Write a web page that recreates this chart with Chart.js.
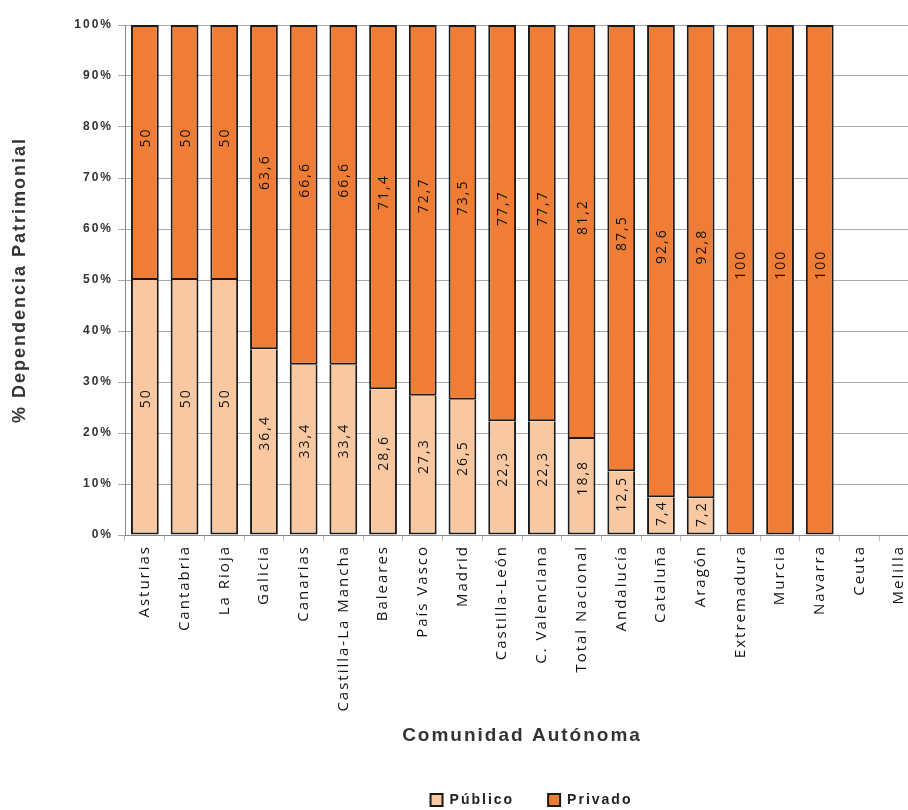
<!DOCTYPE html>
<html>
<head>
<meta charset="utf-8">
<script src="https://cdn.jsdelivr.net/npm/chart.js@4.4.1/dist/chart.umd.min.js"></script>
<style>
  html, body { margin: 0; padding: 0; background: #fff; overflow: hidden; }
  canvas { display: block; }
</style>
</head>
<body>
<canvas id="dependencia" width="930" height="817"></canvas>
<script>
// Categories and values (percent)
const comunidades = ["Asturias", "Cantabria", "La Rioja", "Galicia", "Canarias", "Castilla-La Mancha",
    "Baleares", "País Vasco", "Madrid", "Castilla-León", "C. Valenciana", "Total Nacional",
    "Andalucía", "Cataluña", "Aragón", "Extremadura", "Murcia", "Navarra", "Ceuta", "Melilla"];
const publico = [50, 50, 50, 36.4, 33.4, 33.4, 28.6, 27.3, 26.5, 22.3, 22.3, 18.8, 12.5, 7.4, 7.2, 0, 0, 0, null, null];
const privado = [50, 50, 50, 63.6, 66.6, 66.6, 71.4, 72.7, 73.5, 77.7, 77.7, 81.2, 87.5, 92.6, 92.8, 100, 100, 100, null, null];
const yTicks = [0, 10, 20, 30, 40, 50, 60, 70, 80, 90, 100];

// the original text is widely spaced
const spacing = {
    id: 'spacing',
    beforeLayout(chart) { chart.ctx.letterSpacing = '2px'; },
    beforeDraw(chart) { chart.ctx.letterSpacing = '2px'; }
};

// legend sits a bit right of the canvas centre
const legendShift = {
    id: 'legendShift',
    afterLayout(chart) {
        chart.legend.left += 72;
        chart.legend.right += 72;
    }
};

// rotated value labels, a little above the middle of each segment
const barLabels = {
    id: 'barLabels',
    afterDatasetsDraw(chart) {
        const ctx = chart.ctx;
        const lift = [9, 15];
        ctx.save();
        ctx.font = "14px 'Open Sans'";
        ctx.fillStyle = '#111';
        ctx.textAlign = 'center';
        ctx.textBaseline = 'middle';
        chart.data.datasets.forEach((ds, i) => {
            chart.getDatasetMeta(i).data.forEach((bar, j) => {
                const v = ds.data[j];
                if (!v) return;
                const txt = String(v).replace('.', ',');
                const room = (Math.abs(bar.base - bar.y) - ctx.measureText(txt).width) / 2 - 3;
                const up = Math.max(0, Math.min(lift[i], room));
                ctx.save();
                ctx.translate(bar.x + 1, (bar.y + bar.base) / 2 - up);
                ctx.rotate(-Math.PI / 2);
                ctx.fillText(txt, 0, 0);
                ctx.restore();
            });
        });
        ctx.restore();
    }
};

new Chart("dependencia", {
    type: "bar",
    data: {
        labels: comunidades,
        datasets: [{
            label: "Público",
            data: publico,
            backgroundColor: '#F9C8A0',
            borderColor: '#1a1a1a',
            borderWidth: 2,
            borderSkipped: 'top',
            barPercentage: 0.7,
            categoryPercentage: 1
        }, {
            label: "Privado",
            data: privado,
            backgroundColor: '#F07D35',
            borderColor: '#1a1a1a',
            borderWidth: 2,
            borderSkipped: false,
            barPercentage: 0.7,
            categoryPercentage: 1
        }]
    },
    options: {
        responsive: false,
        animation: false,
        layout: { padding: { top: 25, right: 11, left: 0, bottom: 0 } },
        plugins: {
            legend: {
                display: true,
                position: 'bottom',
                labels: {
                    boxWidth: 12,
                    boxHeight: 12,
                    padding: 34,
                    color: '#222',
                    font: { family: "'Liberation Sans'", size: 14, weight: 'bold' }
                }
            },
            tooltip: { enabled: false }
        },
        scales: {
            x: {
                stacked: true,
                afterFit(s) { s.height = 224; },
                grid: { drawOnChartArea: false, tickLength: 6, color: '#bbb' },
                border: { color: '#888', width: 1 },
                ticks: {
                    minRotation: 90,
                    maxRotation: 90,
                    padding: 4,
                    color: '#111',
                    font: { family: "'Open Sans'", size: 15 }
                },
                title: {
                    display: true,
                    text: 'Comunidad Autónoma',
                    color: '#333',
                    padding: { bottom: 12 },
                    font: { family: "'Liberation Sans'", size: 19, weight: 'bold' }
                }
            },
            y: {
                stacked: true,
                min: 0,
                max: 100,
                afterFit(s) { s.width = 125; },
                afterBuildTicks(s) { s.ticks = yTicks.map(v => ({ value: v })); },
                grid: { color: '#aaa', tickLength: 7 },
                border: { color: '#888', width: 1 },
                ticks: {
                    padding: 5,
                    color: '#333',
                    font: { family: "'Liberation Sans'", size: 12, weight: 'bold' },
                    callback: v => v + '%'
                },
                title: {
                    display: true,
                    text: '% Dependencia Patrimonial',
                    color: '#333',
                    padding: { top: 9 },
                    font: { family: "'Liberation Sans'", size: 18, weight: 'bold' }
                }
            }
        }
    },
    plugins: [spacing, legendShift, barLabels]
});
</script>
</body>
</html>
